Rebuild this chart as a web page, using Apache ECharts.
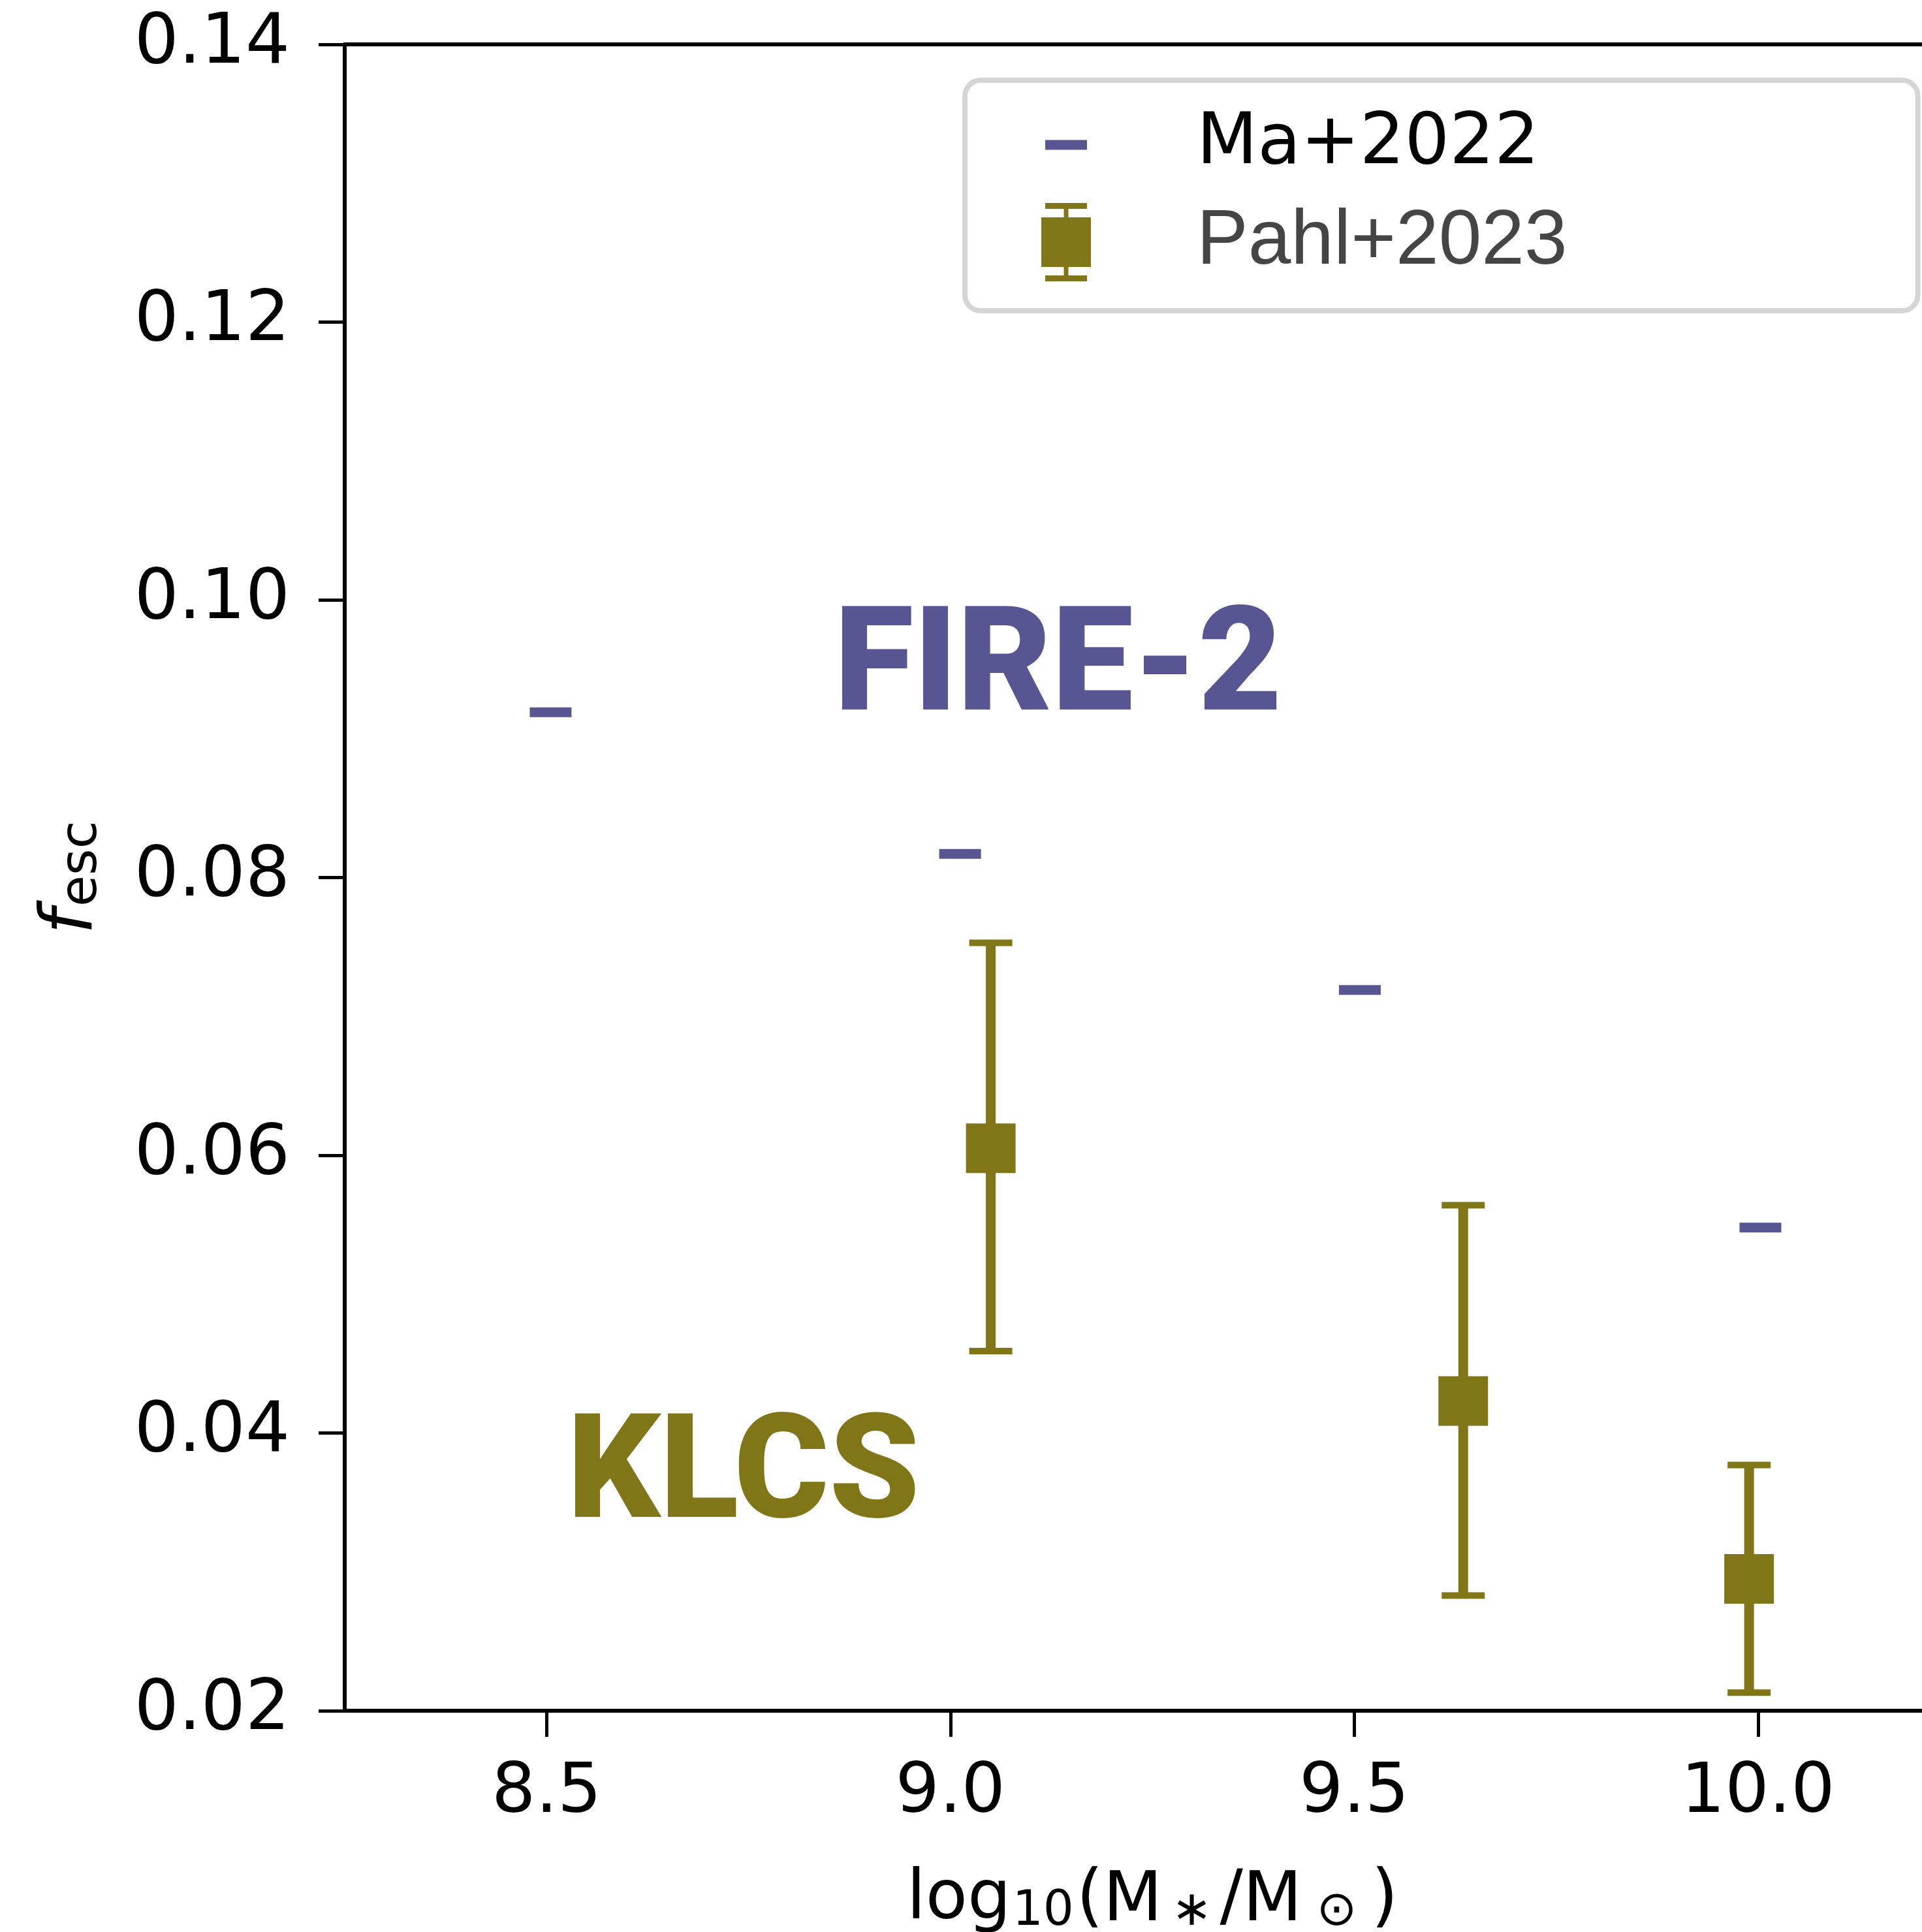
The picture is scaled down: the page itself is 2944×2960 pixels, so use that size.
<!DOCTYPE html>
<html>
<head>
<meta charset="utf-8">
<script src="https://cdn.jsdelivr.net/npm/echarts@6/dist/echarts.min.js"></script>
<style>
html, body { margin: 0; padding: 0; background: #fff; }
#fesc { width: 2944px; height: 2960px; }
</style>
</head>
<body>
<div id="fesc"></div>
<script>
// Ma+2022 (FIRE-2 simulations)
const maMass = [8.505, 9.012, 9.507, 10.003]
const maFesc = [0.0919, 0.0817, 0.0719, 0.0548]

// Pahl+2023 (KLCS), with error bar ends
const pahlMass = [9.05, 9.635, 9.989]
const pahlFesc = [0.0605, 0.0423, 0.0295]
const pahlLow = [0.0459, 0.0283, 0.0213]
const pahlHigh = [0.0753, 0.0564, 0.0377]

const xTicks = [8.5, 9.0, 9.5, 10.0]

const purple = '#575592'
const olive = '#807618'

const maIcon = 'path://M0,0Z M233,120Z M6,52.5 L70,52.5 L70,67.5 L6,67.5Z'
const pahlIcon = 'path://M0,0Z M233,120Z M6,0 L70,0 L70,9 L6,9Z M34.5,9 L41.5,9 L41.5,111 L34.5,111Z ' +
  'M0,22 L76,22 L76,98 L0,98Z M6,111 L70,111 L70,120 L6,120Z'

const mathFont = 'DejaVu Sans'

const option = {
  animation: false,
  backgroundColor: '#fff',
  // the right part of the frame runs past the picture edge
  grid: { left: 528, right: -58, top: 68, bottom: 339, outerBoundsMode: 'none' },
  xAxis: [{
    type: 'value',
    min: 8.25,
    max: 10.25,
    axisLine: { onZero: false, lineStyle: { color: '#000', width: 6 } },
    axisTick: { customValues: xTicks, length: 40, lineStyle: { color: '#000', width: 5 } },
    axisLabel: {
      customValues: xTicks,
      formatter: v => v.toFixed(1),
      fontFamily: mathFont, fontSize: 106, color: '#000', margin: 74
    },
    splitLine: { show: false },
    name: 'log{s|10}({m|M}{t|∗}/{m|M}{u|⊙})',
    nameLocation: 'middle',
    nameGap: 236,
    nameTextStyle: {
      fontFamily: mathFont, fontSize: 105, color: '#000',
      rich: {
        s: { fontFamily: mathFont, fontSize: 74, verticalAlign: 'bottom', lineHeight: 60, padding: [0, 4, 0, 2] },
        m: { fontFamily: mathFont, fontSize: 105, verticalAlign: 'bottom', lineHeight: 110 },
        t: { fontFamily: mathFont, fontSize: 74, verticalAlign: 'bottom', lineHeight: 80, padding: [0, 12, 0, 14] },
        u: { fontFamily: mathFont, fontSize: 74, verticalAlign: 'bottom', lineHeight: 60, padding: [0, 22, 0, 22] }
      }
    }
  }, {
    type: 'value',
    position: 'top',
    min: 8.25,
    max: 10.25,
    axisLine: { onZero: false, lineStyle: { color: '#000', width: 6 } },
    axisTick: { show: false },
    axisLabel: { show: false },
    splitLine: { show: false }
  }],
  yAxis: {
    type: 'value',
    min: 0.02,
    max: 0.14,
    interval: 0.02,
    axisLine: { show: true, onZero: false, lineStyle: { color: '#000', width: 6 } },
    axisTick: { show: true, length: 40, lineStyle: { color: '#000', width: 5 } },
    axisLabel: {
      formatter: v => v.toFixed(2),
      fontFamily: mathFont, fontSize: 107, color: '#000', margin: 84
    },
    splitLine: { show: false },
    name: '{f|f}{e|esc}',
    nameLocation: 'middle',
    nameGap: 362,
    nameTextStyle: {
      rich: {
        f: { fontFamily: mathFont, fontStyle: 'italic', fontSize: 110, color: '#000', verticalAlign: 'bottom', lineHeight: 108 },
        e: { fontFamily: mathFont, fontSize: 78, color: '#000', verticalAlign: 'bottom', lineHeight: 62, padding: [0, 0, 0, 4] }
      }
    }
  },
  legend: {
    orient: 'vertical',
    left: 1478,
    top: 123,
    padding: [39, 537, 39, 117],
    itemWidth: 233,
    itemHeight: 120,
    itemGap: 23,
    selectedMode: false,
    backgroundColor: '#fff',
    borderColor: '#d5d5d5',
    borderWidth: 8,
    borderRadius: 24,
    itemStyle: { borderWidth: 0, opacity: 1 },
    data: [
      { name: 'Ma+2022', icon: maIcon, textStyle: { fontFamily: mathFont, fontSize: 108, color: '#000' } },
      {
        name: 'Pahl+2023', icon: pahlIcon,
        textStyle: { fontFamily: 'Liberation Sans', fontSize: 118, lineHeight: 118, color: '#454545', padding: [14, 0, 0, 0] }
      }
    ]
  },
  graphic: [
    {
      type: 'text', x: 1621, y: 1031, z: 10,
      style: { text: 'FIRE-2', fill: purple, font: '900 222px Roboto', textAlign: 'center', textVerticalAlign: 'middle' }
    },
    {
      type: 'text', x: 1139, y: 2268, z: 10,
      style: { text: 'KLCS', fill: olive, font: '900 222px Roboto', textAlign: 'center', textVerticalAlign: 'middle' }
    }
  ],
  series: [
    {
      name: 'Ma+2022',
      type: 'scatter',
      symbol: 'rect',
      symbolSize: [64, 15],
      itemStyle: { color: purple, opacity: 1 },
      data: maMass.map((m, i) => [m, maFesc[i]])
    },
    {
      name: 'Pahl+2023',
      type: 'custom',
      itemStyle: { color: olive, opacity: 1 },
      data: pahlMass.map((m, i) => [m, pahlFesc[i], pahlLow[i], pahlHigh[i]]),
      renderItem: function (params, api) {
        const c = api.coord([api.value(0), api.value(1)])
        const top = api.coord([api.value(0), api.value(3)])
        const bot = api.coord([api.value(0), api.value(2)])
        const col = olive
        return {
          type: 'group',
          children: [
            { type: 'rect', shape: { x: c[0] - 7.5, y: top[1], width: 15, height: bot[1] - top[1] }, style: { fill: col } },
            { type: 'rect', shape: { x: c[0] - 33, y: top[1] - 5, width: 66, height: 10 }, style: { fill: col } },
            { type: 'rect', shape: { x: c[0] - 33, y: bot[1] - 5, width: 66, height: 10 }, style: { fill: col } },
            { type: 'rect', shape: { x: c[0] - 38, y: c[1] - 38, width: 76, height: 76 }, style: { fill: col } }
          ]
        }
      }
    }
  ]
}

const chart = echarts.init(document.getElementById('fesc'))
chart.setOption(option)
</script>
</body>
</html>
